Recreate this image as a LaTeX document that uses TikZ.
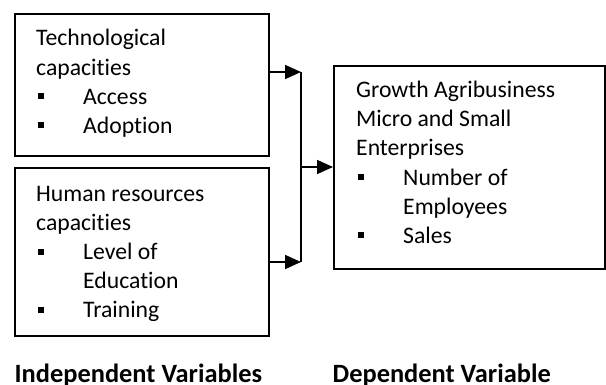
\documentclass[tikz,border=0pt]{standalone}
\usepackage{fontspec}
\setmainfont[Ligatures={NoCommon}]{Carlito}
\usetikzlibrary{arrows.meta}
\newcommand{\myitem}[1]{\makebox[47pt][l]{\hspace{2pt}\raisebox{5pt}{\rule{6pt}{6pt}}}#1}
\newcommand{\mycont}[1]{\hspace*{47pt}#1}
\begin{document}
\begin{tikzpicture}[x=1pt,y=-1pt,
  boxstyle/.style={draw,line width=1.8pt,inner sep=0pt,anchor=north west},
  txtstyle/.style={inner sep=0pt,anchor=base west,align=left,font=\fontsize{23.7}{29.2}\selectfont},
  lbl/.style={inner sep=0pt,anchor=base west,font=\fontsize{26.4}{30}\selectfont\bfseries},
  conn/.style={line width=1.8pt},
  arr/.style={line width=1.8pt,-{Triangle[length=16pt,width=14pt]}}]
\useasboundingbox (0,0) rectangle (606,385);
\node[boxstyle,minimum width=254pt,minimum height=142pt] (b1) at (14,13) {};
\node[boxstyle,minimum width=254pt,minimum height=168pt] (b2) at (14,167) {};
\node[boxstyle,minimum width=271pt,minimum height=203pt] (b3) at (333,65) {};
\node[txtstyle] (t1) at (36,133.5) {Technological\\capacities\\\myitem{Access}\\\myitem{Adoption}};
\node[txtstyle] (t2) at (36,318) {Human resources\\capacities\\\myitem{Level of}\\\mycont{Education}\\\myitem{Training}};
\node[txtstyle] (t3) at (356,243.5) {Growth Agribusiness\\Micro and Small\\Enterprises\\\myitem{Number of}\\\mycont{Employees}\\\myitem{Sales}};
\node[lbl] (l1) at (14.5,382) {Independent Variables};
\node[lbl] (l2) at (332.5,382) {Dependent Variable};
\coordinate (j1) at (301,72);
\coordinate (j2) at (301,262);
\coordinate (jm) at (301,167);
\draw[arr] (b1.east |- j1) -- (j1);
\draw[arr] (b2.east |- j2) -- (j2);
\draw[conn] (j1) -- (j2);
\draw[arr] (jm) -- (b3.west |- jm);
\end{tikzpicture}
\end{document}
